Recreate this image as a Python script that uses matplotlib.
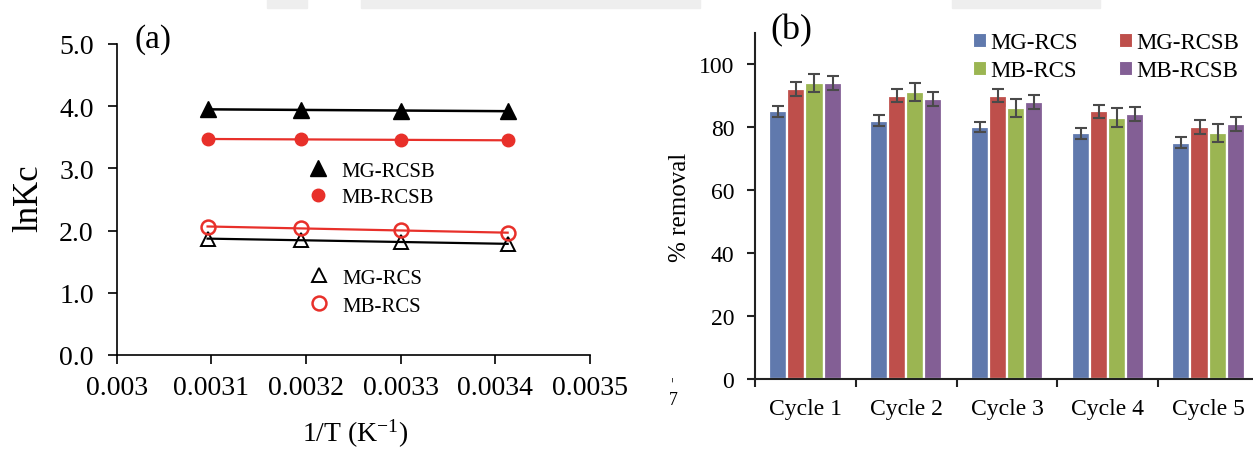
import numpy as np
import matplotlib
matplotlib.use("Agg")
import matplotlib.pyplot as plt
from matplotlib.lines import Line2D
from matplotlib.patches import Patch, Rectangle

plt.rcParams['font.family'] = ['Liberation Serif', 'DejaVu Serif']
plt.rcParams['mathtext.fontset'] = 'custom'
plt.rcParams['mathtext.rm'] = 'Liberation Serif'
plt.rcParams['mathtext.it'] = 'Liberation Serif:italic'

# ---------------- data: panel (a) ----------------
inv_T = [0.003096, 0.003195, 0.003300, 0.003413]
lnkc_mg_rcsb = [3.95, 3.94, 3.93, 3.92]
lnkc_mb_rcsb = [3.47, 3.47, 3.46, 3.45]
lnkc_mb_rcs = [2.06, 2.04, 2.01, 1.96]
lnkc_mg_rcs = [1.87, 1.85, 1.81, 1.79]
xticks_a = [0.003, 0.0031, 0.0032, 0.0033, 0.0034, 0.0035]
xticklabels_a = ["0.003", "0.0031", "0.0032", "0.0033", "0.0034", "0.0035"]
yticks_a = [0, 1, 2, 3, 4, 5]
yticklabels_a = ["0.0", "1.0", "2.0", "3.0", "4.0", "5.0"]

# ---------------- data: panel (b) ----------------
cycles = ["Cycle 1", "Cycle 2", "Cycle 3", "Cycle 4", "Cycle 5"]
series_b = ["MG-RCS", "MG-RCSB", "MB-RCS", "MB-RCSB"]
mg_rcs = [85, 82, 80, 78, 75]
mg_rcsb = [92, 90, 90, 85, 80]
mb_rcs = [94, 91, 86, 83, 78]
mb_rcsb = [94, 89, 88, 84, 81]
err_mg_rcs = [1.7, 1.7, 1.7, 1.7, 1.7]
err_mg_rcsb = [2.3, 2.2, 2.1, 2.1, 2.3]
err_mb_rcs = [2.9, 2.9, 2.9, 2.9, 2.9]
err_mb_rcsb = [2.2, 2.2, 2.3, 2.2, 2.3]
yticks_b = [0, 20, 40, 60, 80, 100]

colors_b = ["#6079ad", "#be4f4b", "#9bb552", "#835f95"]

W, H = 1253, 452
fig = plt.figure(figsize=(W / 100, H / 100), dpi=100)

def fx(px):
    return px / W

def fy(py):
    return 1 - py / H

# faint watermark band at top
for x0, x1 in [(267, 307), (361, 700), (952, 1100)]:
    fig.patches.append(Rectangle((fx(x0), fy(9)), fx(x1 - x0), 9 / H,
                                 transform=fig.transFigure, color="#eeeeee", zorder=0))

# ================= panel (a) =================
ax1 = fig.add_axes([fx(116.7), fy(356), fx(590 - 116.7), 311 / H])
ax1.set_xlim(0.003, 0.0035)
ax1.set_ylim(0, 5)
for s in ["top", "right"]:
    ax1.spines[s].set_visible(False)
for s in ["left", "bottom"]:
    ax1.spines[s].set_linewidth(1.2)
ax1.set_xticks(xticks_a)
ax1.set_xticklabels(xticklabels_a)
ax1.set_yticks(yticks_a)
ax1.set_yticklabels(yticklabels_a)
ax1.tick_params(axis='both', direction='out', length=6.5, width=1.2, labelsize=20)
ax1.tick_params(axis='x', pad=8)
ax1.tick_params(axis='y', pad=10)

x_arr = np.array(inv_T)
def fit_line(yvals, color, lw):
    p = np.polyfit(x_arr, np.array(yvals), 1)
    xs = np.array([x_arr[0], x_arr[-1]])
    ax1.plot(xs, np.polyval(p, xs), color=color, lw=lw, zorder=2)

fit_line(lnkc_mg_rcsb, "black", 1.8)
fit_line(lnkc_mb_rcsb, "#e8302a", 1.6)
fit_line(lnkc_mb_rcs, "#e8302a", 1.6)
fit_line(lnkc_mg_rcs, "black", 1.6)

ax1.plot(inv_T, lnkc_mg_rcsb, ls='none', marker='^', ms=11, color='black', zorder=3)
ax1.plot(inv_T, lnkc_mb_rcsb, ls='none', marker='o', ms=9, color='#e8302a', zorder=3)
ax1.plot(inv_T, lnkc_mg_rcs, ls='none', marker='^', ms=10, mfc='none', mec='black', mew=1.4, zorder=3)
ax1.plot(inv_T, lnkc_mb_rcs, ls='none', marker='o', ms=10, mfc='none', mec='#e8302a', mew=1.8, zorder=4)

h1 = [Line2D([], [], ls='none', marker='^', ms=11, color='black'),
      Line2D([], [], ls='none', marker='o', ms=9, color='#e8302a')]
leg1 = ax1.legend(h1, ["MG-RCSB", "MB-RCSB"], loc='upper left',
                  bbox_to_anchor=(fx(308), fy(162)), bbox_transform=fig.transFigure,
                  frameon=False, fontsize=15, handlelength=1.0, handletextpad=0.6,
                  labelspacing=0.35, borderpad=0, borderaxespad=0)
ax1.add_artist(leg1)
h2 = [Line2D([], [], ls='none', marker='^', ms=10, mfc='none', mec='black', mew=1.4),
      Line2D([], [], ls='none', marker='o', ms=10, mfc='none', mec='#e8302a', mew=1.8)]
ax1.legend(h2, ["MG-RCS", "MB-RCS"], loc='upper left',
           bbox_to_anchor=(fx(309), fy(269)), bbox_transform=fig.transFigure,
           frameon=False, fontsize=15, handlelength=1.0, handletextpad=0.6,
           labelspacing=0.4, borderpad=0, borderaxespad=0)

fig.text(fx(28.5), fy(198), "lnKc", rotation=90, ha='center', va='center', fontsize=25)
fig.text(fx(355), fy(434), r"1/T (K$^{\mathregular{-1}}$)", ha='center', va='center', fontsize=20)
fig.text(fx(153), fy(40), "(a)", ha='center', va='center', fontsize=24)

# ================= panel (b) =================
ax2 = fig.add_axes([fx(755), fy(380), fx(1259 - 755), 346.5 / H])
ax2.set_xlim(-0.5, 4.5)
ax2.set_ylim(0, 110)
for s in ["top", "right"]:
    ax2.spines[s].set_visible(False)
for s in ["left", "bottom"]:
    ax2.spines[s].set_linewidth(1.5)
    ax2.spines[s].set_color("#222222")

xpos = np.arange(len(cycles))
slot = 0.18
vals = [mg_rcs, mg_rcsb, mb_rcs, mb_rcsb]
errs = [err_mg_rcs, err_mg_rcsb, err_mb_rcs, err_mb_rcsb]
handles_b = []
for i, (v, e, c, name) in enumerate(zip(vals, errs, colors_b, series_b)):
    off = (i - 1.5) * slot
    ax2.bar(xpos + off, v, width=slot, color=c, edgecolor='white', linewidth=1.6, zorder=2)
    ax2.errorbar(xpos + off, v, yerr=e, fmt='none', ecolor='#4a4a4a', elinewidth=1.5,
                 capsize=4.2, capthick=1.5, zorder=3)
    handles_b.append(Patch(facecolor=c, edgecolor='white', linewidth=0.8, label=name))

ax2.set_xticks(xpos)
ax2.set_xticklabels(cycles)
ax2.set_xticks(np.arange(-0.5, 4.6, 1.0), minor=True)
ax2.tick_params(axis='x', which='major', length=0, labelsize=17, pad=14)
ax2.tick_params(axis='x', which='minor', direction='out', length=6, width=1.5, color="#222222")
ax2.set_yticks(yticks_b)
ax2.tick_params(axis='y', direction='out', length=6, width=1.5, color="#222222", labelsize=17, pad=9)

order = [0, 2, 1, 3]
ax2.legend([handles_b[k] for k in order], [series_b[k] for k in order], ncol=2,
           loc='upper left', bbox_to_anchor=(fx(973), fy(33)), bbox_transform=fig.transFigure,
           frameon=False, fontsize=16.5, handlelength=0.55, handleheight=0.55,
           handletextpad=0.2, columnspacing=1.8, labelspacing=0.3,
           borderpad=0, borderaxespad=0)

fig.text(fx(680), fy(207), "% removal", rotation=90, ha='center', va='center', fontsize=18)
fig.text(fx(791), fy(31), "(b)", ha='center', va='center', fontsize=26)
fig.text(fx(673), fy(379), "-", rotation=90, ha='center', va='center', fontsize=12)
fig.text(fx(673), fy(401), "7", ha='center', va='center', fontsize=13)

fig.savefig("out.png", dpi=100)
